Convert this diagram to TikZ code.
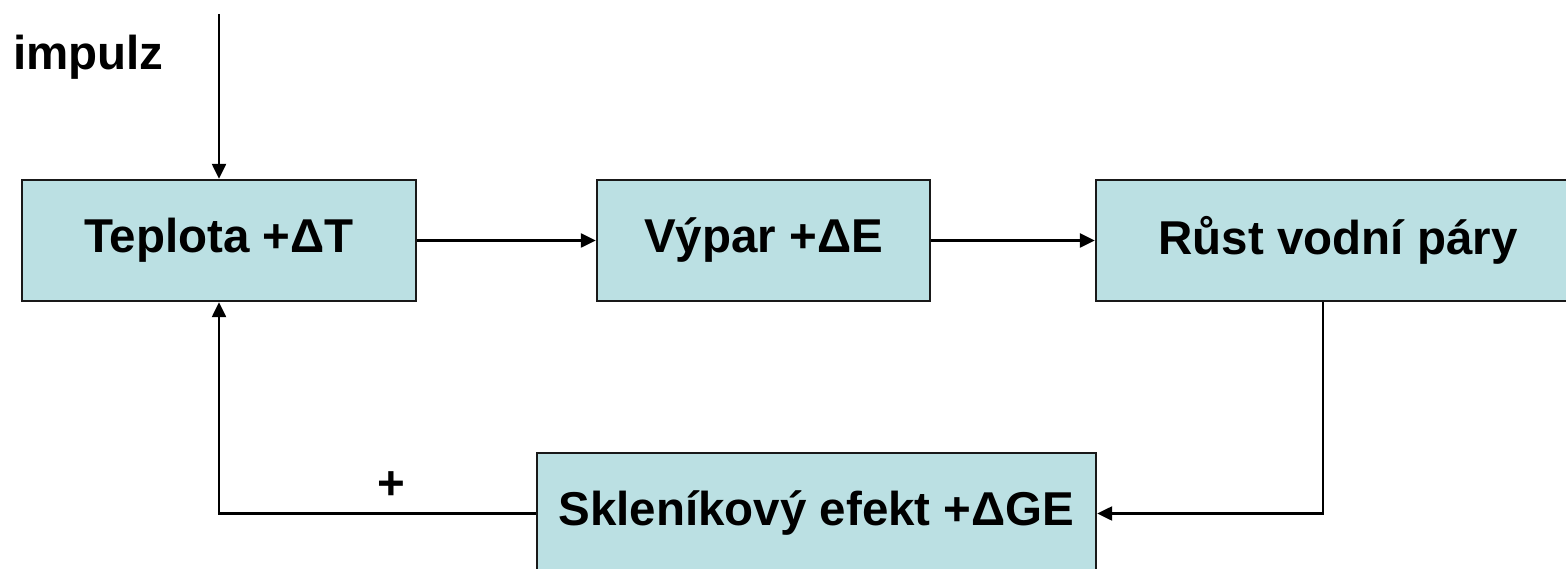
\documentclass[tikz,border=0pt]{standalone}
\usepackage{fontspec}
\setmainfont{Liberation Sans}
\usetikzlibrary{arrows.meta}
\definecolor{boxfill}{RGB}{187,224,227}
\definecolor{boxline}{RGB}{25,25,25}
\tikzset{
  block/.style={draw=boxline, line width=2.4pt, fill=boxfill, minimum height=121pt,
    inner sep=0pt, font=\fontsize{47.5}{56}\selectfont\bfseries},
  link/.style={line width=2.4pt, -{Triangle[length=15pt,width=14pt]}},
  lbl/.style={inner sep=0pt, font=\fontsize{47.5}{56}\selectfont\bfseries}
}
\begin{document}
\begin{tikzpicture}[x=1pt,y=-1pt]
  \clip (0,0) rectangle (1566,569);
  % feedback loop blocks
  \node[block, minimum width=394pt] (T) at (219,240.5) {Teplota +ΔT};
  \node[block, minimum width=333pt] (V) at (763.5,240.5) {Výpar +ΔE};
  \node[block, minimum width=484pt] (R) at (1338,240.5) {Růst vodní páry};
  \node[block, minimum width=559pt] (S) at (816.5,513.5) {Skleníkový efekt +ΔGE};
  % labels
  \node[lbl, anchor=base west] (imp) at (13,70) {impulz};
  \node[lbl] (plus) at (391,486) {+};
  \coordinate (in) at (219,14);
  % connectors
  \draw[link] (in) -- (T.north);
  \draw[link] (T.east) -- (V.west);
  \draw[link] (V.east) -- (R.west);
  \draw[link] ([xshift=-15pt]R.south) |- (S.east);
  \draw[link] (S.west) -| (T.south);
\end{tikzpicture}
\end{document}
